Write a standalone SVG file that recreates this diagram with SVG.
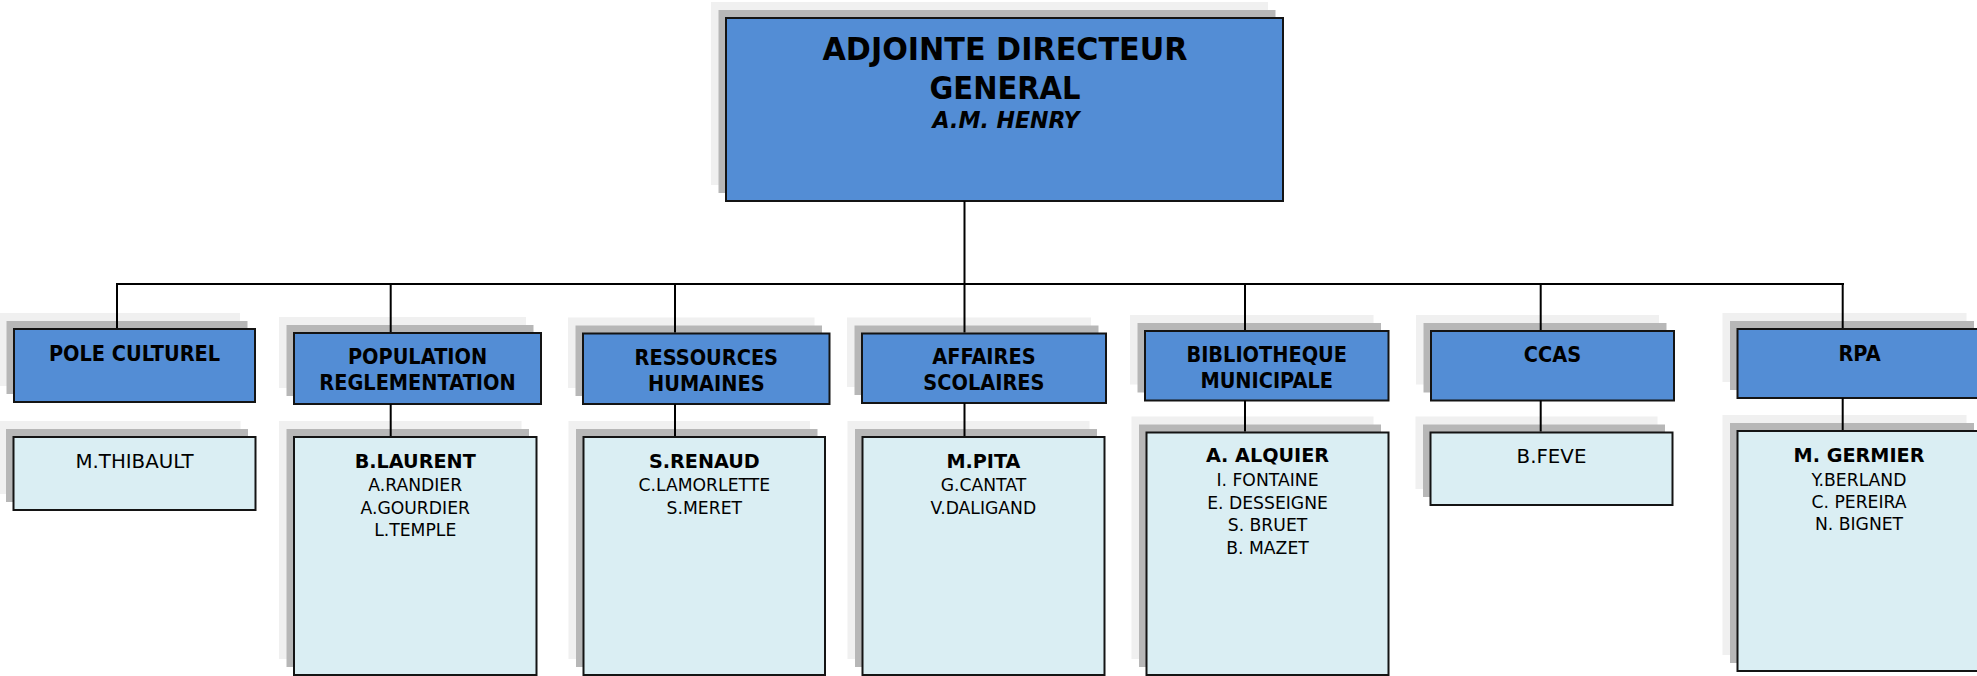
<svg xmlns="http://www.w3.org/2000/svg" width="1977" height="676" viewBox="0 0 1977 676">
<style>
.sh2{fill:#f0f0f0}
.sh1{fill:#b7b7b7}
.hb{fill:#538dd5;stroke:#141414;stroke-width:2}
.lb{fill:#daeef3;stroke:#141414;stroke-width:2}
text{font-family:"DejaVu Sans",sans-serif;fill:#000;text-anchor:middle}
.ttl{font-size:32px;font-weight:bold}
.sub{font-size:23px;font-weight:bold;font-style:italic}
.hd{font-size:21.5px;font-weight:bold}
.nm{font-size:20px;font-weight:bold}
.mb{font-size:18.5px}
.one{font-size:20px}
.cn{stroke:#000;stroke-width:2;fill:none}
</style>
<rect width="1977" height="676" fill="#fff"/>

<g id="adjointe-directeur-general">
<rect class="sh2" x="711" y="2" width="557" height="183"/>
<rect class="sh1" x="718.5" y="10" width="557" height="183"/>
<rect class="hb" x="726" y="18" width="557" height="183"/>
<text class="ttl" x="1005" y="60" textLength="365" lengthAdjust="spacingAndGlyphs">ADJOINTE DIRECTEUR</text>
<text class="ttl" x="1005" y="99" textLength="151" lengthAdjust="spacingAndGlyphs">GENERAL</text>
<text class="sub" x="1006" y="128.3" textLength="147" lengthAdjust="spacingAndGlyphs">A.M. HENRY</text>
</g>

<g id="pole-culturel">
<rect class="sh2" x="-1" y="313" width="241" height="73"/>
<rect class="sh1" x="6.5" y="321" width="241" height="73"/>
<rect class="hb" x="14" y="329" width="241" height="73"/>
<text class="hd" transform="translate(134.5 361) scale(0.9 1)">POLE CULTUREL</text>
</g>
<g id="pole-culturel-staff">
<rect class="sh2" x="-1.5" y="421" width="242" height="73"/>
<rect class="sh1" x="6" y="429" width="242" height="73"/>
<rect class="lb" x="13.5" y="437" width="242" height="73"/>
<text class="one" transform="translate(134.5 468.3) scale(0.99 1)">M.THIBAULT</text>
</g>

<g id="population-reglementation">
<rect class="sh2" x="279" y="317" width="247" height="71"/>
<rect class="sh1" x="286.5" y="325" width="247" height="71"/>
<rect class="hb" x="294" y="333" width="247" height="71"/>
<text class="hd" transform="translate(417.5 363.7) scale(0.9 1)"><tspan x="0" y="0">POPULATION</tspan><tspan x="0" y="26.3">REGLEMENTATION</tspan></text>
</g>
<g id="population-staff">
<rect class="sh2" x="279" y="421" width="242.5" height="238"/>
<rect class="sh1" x="286.5" y="429" width="242.5" height="238"/>
<rect class="lb" x="294" y="437" width="242.5" height="238"/>
<text class="nm" transform="translate(415.2 468.3) scale(0.96 1)">B.LAURENT</text>
<text class="mb" transform="translate(415.2 491.3) scale(0.93 1)"><tspan x="0" y="0">A.RANDIER</tspan><tspan x="0" y="22.3">A.GOURDIER</tspan><tspan x="0" y="44.6">L.TEMPLE</tspan></text>
</g>

<g id="ressources-humaines">
<rect class="sh2" x="568" y="317.5" width="246.5" height="70.5"/>
<rect class="sh1" x="575.5" y="325.5" width="246.5" height="70.5"/>
<rect class="hb" x="583" y="333.5" width="246.5" height="70.5"/>
<text class="hd" transform="translate(706.3 365) scale(0.9 1)"><tspan x="0" y="0">RESSOURCES</tspan><tspan x="0" y="25.7">HUMAINES</tspan></text>
</g>
<g id="ressources-staff">
<rect class="sh2" x="568.5" y="421" width="241.5" height="238"/>
<rect class="sh1" x="576" y="429" width="241.5" height="238"/>
<rect class="lb" x="583.5" y="437" width="241.5" height="238"/>
<text class="nm" transform="translate(704.3 468.3) scale(0.96 1)">S.RENAUD</text>
<text class="mb" transform="translate(704.3 491.3) scale(0.93 1)"><tspan x="0" y="0">C.LAMORLETTE</tspan><tspan x="0" y="22.3">S.MERET</tspan></text>
</g>

<g id="affaires-scolaires">
<rect class="sh2" x="847" y="317.5" width="244" height="69.5"/>
<rect class="sh1" x="854.5" y="325.5" width="244" height="69.5"/>
<rect class="hb" x="862" y="333.5" width="244" height="69.5"/>
<text class="hd" transform="translate(983.9 364.3) scale(0.9 1)"><tspan x="0" y="0">AFFAIRES</tspan><tspan x="0" y="25.7">SCOLAIRES</tspan></text>
</g>
<g id="affaires-staff">
<rect class="sh2" x="847.5" y="421" width="242" height="238"/>
<rect class="sh1" x="855" y="429" width="242" height="238"/>
<rect class="lb" x="862.5" y="437" width="242" height="238"/>
<text class="nm" transform="translate(983.4 468.3) scale(0.96 1)">M.PITA</text>
<text class="mb" transform="translate(983.4 491.3) scale(0.93 1)"><tspan x="0" y="0">G.CANTAT</tspan><tspan x="0" y="22.3">V.DALIGAND</tspan></text>
</g>

<g id="bibliotheque-municipale">
<rect class="sh2" x="1130" y="315" width="243.5" height="69.5"/>
<rect class="sh1" x="1137.5" y="323" width="243.5" height="69.5"/>
<rect class="hb" x="1145" y="331" width="243.5" height="69.5"/>
<text class="hd" transform="translate(1266.7 362.3) scale(0.9 1)"><tspan x="0" y="0">BIBLIOTHEQUE</tspan><tspan x="0" y="25.4">MUNICIPALE</tspan></text>
</g>
<g id="bibliotheque-staff">
<rect class="sh2" x="1131.5" y="416.5" width="242" height="242.5"/>
<rect class="sh1" x="1139" y="424.5" width="242" height="242.5"/>
<rect class="lb" x="1146.5" y="432.5" width="242" height="242.5"/>
<text class="nm" transform="translate(1267.5 462.3) scale(0.96 1)">A. ALQUIER</text>
<text class="mb" transform="translate(1267.5 486.4) scale(0.93 1)"><tspan x="0" y="0">I. FONTAINE</tspan><tspan x="0" y="22.5">E. DESSEIGNE</tspan><tspan x="0" y="45">S. BRUET</tspan><tspan x="0" y="67.5">B. MAZET</tspan></text>
</g>

<g id="ccas">
<rect class="sh2" x="1416" y="315" width="243" height="69.5"/>
<rect class="sh1" x="1423.5" y="323" width="243" height="69.5"/>
<rect class="hb" x="1431" y="331" width="243" height="69.5"/>
<text class="hd" transform="translate(1552.5 362.3) scale(0.9 1)">CCAS</text>
</g>
<g id="ccas-staff">
<rect class="sh2" x="1415.5" y="416.5" width="242" height="72.5"/>
<rect class="sh1" x="1423" y="424.5" width="242" height="72.5"/>
<rect class="lb" x="1430.5" y="432.5" width="242" height="72.5"/>
<text class="one" transform="translate(1551.5 463.3) scale(0.99 1)">B.FEVE</text>
</g>

<g id="rpa">
<rect class="sh2" x="1722.5" y="313" width="244" height="69"/>
<rect class="sh1" x="1730" y="321" width="244" height="69"/>
<rect class="hb" x="1737.5" y="329" width="244" height="69"/>
<text class="hd" transform="translate(1859.5 361) scale(0.9 1)">RPA</text>
</g>
<g id="rpa-staff">
<rect class="sh2" x="1722.5" y="415" width="244" height="240"/>
<rect class="sh1" x="1730" y="423" width="244" height="240"/>
<rect class="lb" x="1737.5" y="431" width="244" height="240"/>
<text class="nm" transform="translate(1859 461.7) scale(0.96 1)">M. GERMIER</text>
<text class="mb" transform="translate(1859 485.7) scale(0.93 1)"><tspan x="0" y="0">Y.BERLAND</tspan><tspan x="0" y="22.3">C. PEREIRA</tspan><tspan x="0" y="44.6">N. BIGNET</tspan></text>
</g>

<g id="connectors" class="cn">
<line x1="964.5" y1="201" x2="964.5" y2="284"/>
<line x1="116" y1="284" x2="1844" y2="284"/>
<line x1="117" y1="284" x2="117" y2="328"/>
<line x1="390.7" y1="284" x2="390.7" y2="332"/>
<line x1="675" y1="284" x2="675" y2="332.5"/>
<line x1="964.5" y1="284" x2="964.5" y2="332.5"/>
<line x1="1245" y1="284" x2="1245" y2="330"/>
<line x1="1540.7" y1="284" x2="1540.7" y2="330"/>
<line x1="1842.7" y1="284" x2="1842.7" y2="328"/>
<line x1="390.7" y1="404" x2="390.7" y2="436"/>
<line x1="675" y1="404" x2="675" y2="436"/>
<line x1="964.5" y1="403" x2="964.5" y2="436"/>
<line x1="1245" y1="400.5" x2="1245" y2="431.5"/>
<line x1="1540.7" y1="400.5" x2="1540.7" y2="431.5"/>
<line x1="1842.7" y1="398" x2="1842.7" y2="430"/>
</g>
</svg>
